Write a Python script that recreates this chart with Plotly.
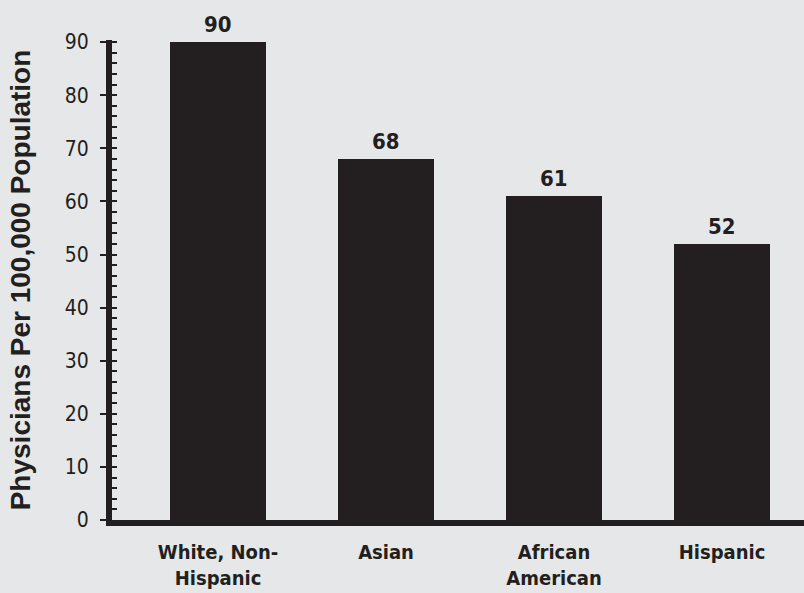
import plotly.graph_objects as go

categories = ["White, Non-<br>Hispanic", "Asian", "African<br>American", "Hispanic"]
values = [90, 68, 61, 52]
y_ticks = [0, 10, 20, 30, 40, 50, 60, 70, 80, 90]

ink = "#231f20"
bg = "#e6e7e8"
narrow = "DejaVu Sans Condensed, Roboto, sans-serif"

xs = list(range(len(categories)))

fig = go.Figure()
fig.add_trace(go.Bar(
    x=xs, y=values, width=0.571,
    marker=dict(color=ink, line=dict(width=0)),
    hoverinfo="skip",
))
# invisible trace for minor ticks axis
fig.add_trace(go.Scatter(x=[0], y=[0], yaxis="y2", mode="markers",
                         marker=dict(opacity=0), showlegend=False, hoverinfo="skip"))

for x, v in zip(xs, values):
    fig.add_annotation(x=x, y=v, text="<b>%d</b>" % v, showarrow=False,
                       yanchor="bottom", yshift=3,
                       font=dict(family=narrow, size=22, color=ink))

fig.update_layout(
    width=804, height=593,
    paper_bgcolor=bg, plot_bgcolor=bg,
    margin=dict(l=112, r=0, t=40, b=73),
    showlegend=False,
    bargap=0,
    xaxis=dict(
        range=[-0.631, 3.488], tickmode="array",
        tickvals=xs, ticktext=["<b>%s</b>" % c for c in categories],
        tickfont=dict(family=narrow, size=20, color=ink),
        showline=True, linecolor=ink, linewidth=6, showgrid=False, zeroline=False,
        ticks="", ticklabelstandoff=9,
    ),
    yaxis=dict(
        range=[0, 90.4], tickmode="array", tickvals=y_ticks,
        tickfont=dict(family=narrow, size=21, color=ink),
        showline=True, linecolor=ink, linewidth=6, showgrid=False, zeroline=False,
        ticks="outside", ticklen=6, tickwidth=1.5, tickcolor=ink, ticklabelstandoff=7,
        title=dict(text="<b>Physicians Per 100,000 Population</b>",
                   font=dict(family="Liberation Sans, Arial", size=28, color=ink), standoff=28),
    ),
    yaxis2=dict(
        range=[0, 90.4], overlaying="y", side="left", dtick=2, tick0=0,
        ticks="inside", ticklen=5, tickwidth=1.5, tickcolor=ink,
        showticklabels=False, showline=False, showgrid=False, zeroline=False,
    ),
)

fig.write_html("out.html", config={"displayModeBar": False},
               post_script="document.body.style.margin='0';document.body.style.background='#e6e7e8';")
